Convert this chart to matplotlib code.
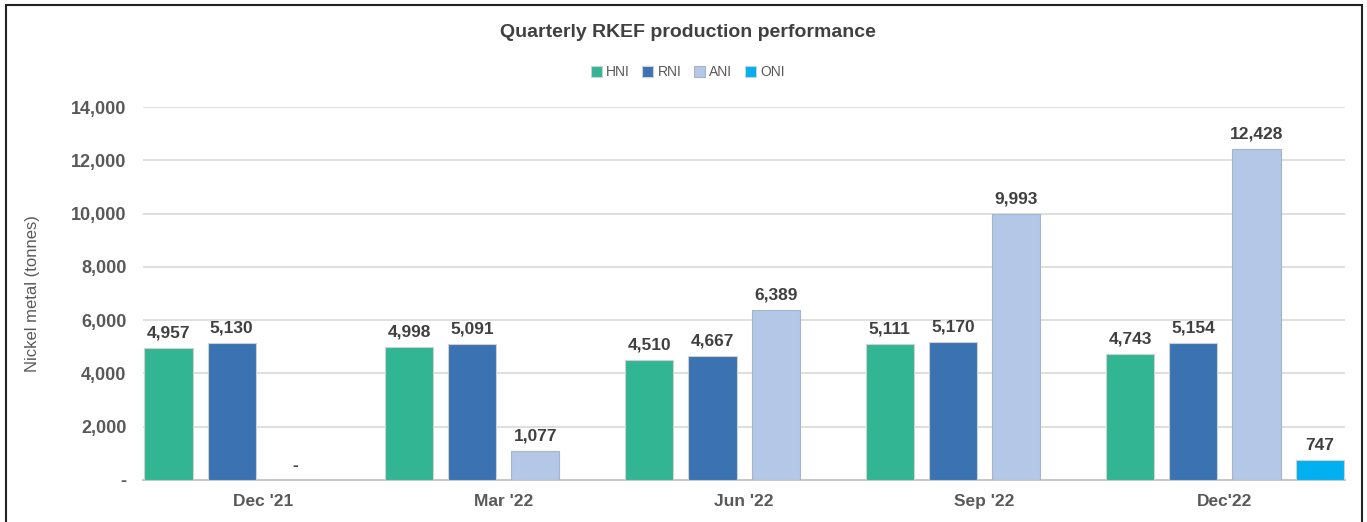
import numpy as np
import matplotlib
matplotlib.use("Agg")
import matplotlib.pyplot as plt
from matplotlib.patches import Rectangle

# quarterly nickel metal production (tonnes) per RKEF operation
quarters = ["Dec '21", "Mar '22", "Jun '22", "Sep '22", "Dec'22"]
hni = [4957, 4998, 4510, 5111, 4743]
rni = [5130, 5091, 4667, 5170, 5154]
ani = [0, 1077, 6389, 9993, 12428]
oni = [None, None, None, None, 747]
series = [("HNI", hni), ("RNI", rni), ("ANI", ani), ("ONI", oni)]
colors = {"HNI": "#32B592", "RNI": "#3A72B2", "ANI": "#B4C7E7", "ONI": "#00B0F0"}
yticks = [0, 2000, 4000, 6000, 8000, 10000, 12000, 14000]

plt.rcParams["font.family"] = ["Liberation Sans", "DejaVu Sans"]
fig = plt.figure(figsize=(13.67, 5.22), dpi=100)
ax = fig.add_axes([0.1046, 0.0805, 0.8794, 0.7145])

x = np.arange(len(quarters))
w, step = 0.2, 0.2625
for i, (name, vals) in enumerate(series):
    off = (i - 1.5) * step
    xs = [xx + off for xx, v in zip(x, vals) if v is not None]
    vs = [v for v in vals if v is not None]
    ec = "#A6B4CC" if name == "ANI" else "#D0D0D0"
    ax.bar(xs, vs, width=w, color=colors[name], edgecolor=ec, linewidth=0.8,
           label=name, zorder=3)
    for xx, v in zip(xs, vs):
        lab = f"{v:,}" if v else "-"
        ax.text(xx, v + 280, lab, ha="center", va="bottom", fontsize=12.5,
                fontweight="bold", color="#404040")

ax.set_xlim(-0.5, len(quarters) - 0.5)
ax.set_ylim(0, 14000)
ax.set_yticks(yticks)
ax.set_yticklabels([f"{t:,}" if t else "-" for t in yticks], fontsize=13,
                   fontweight="bold", color="#595959")
ax.set_xticks(x)
ax.set_xticklabels(quarters, fontsize=12.5, fontweight="bold", color="#595959")
ax.tick_params(axis="both", length=0, pad=12)
ax.tick_params(axis="x", pad=10)
ax.grid(axis="y", color="#D9D9D9", linewidth=1.2, zorder=0)
for s in ("top", "right", "left"):
    ax.spines[s].set_visible(False)
ax.spines["bottom"].set_color("#C8C8C8")
ax.spines["bottom"].set_linewidth(1.5)
ax.set_ylabel("Nickel metal (tonnes)", fontsize=12, color="#595959", labelpad=22)

fig.text(0.503, 0.937, "Quarterly RKEF production performance", ha="center", va="center",
         fontsize=14, fontweight="bold", color="#404040")
fig.legend(loc="center", bbox_to_anchor=(0.503, 0.862), ncol=4, frameon=False,
           fontsize=10, handlelength=0.8, handleheight=0.8, handletextpad=0.3,
           columnspacing=0.9, labelcolor="#595959")

# chart frame
fig.add_artist(Rectangle((6 / 1367, -0.05), 1356 / 1367, 1.05 - 5 / 522,
                         transform=fig.transFigure, fill=False, edgecolor="#222222",
                         linewidth=1.5))

fig.savefig("out.png", dpi=100)
